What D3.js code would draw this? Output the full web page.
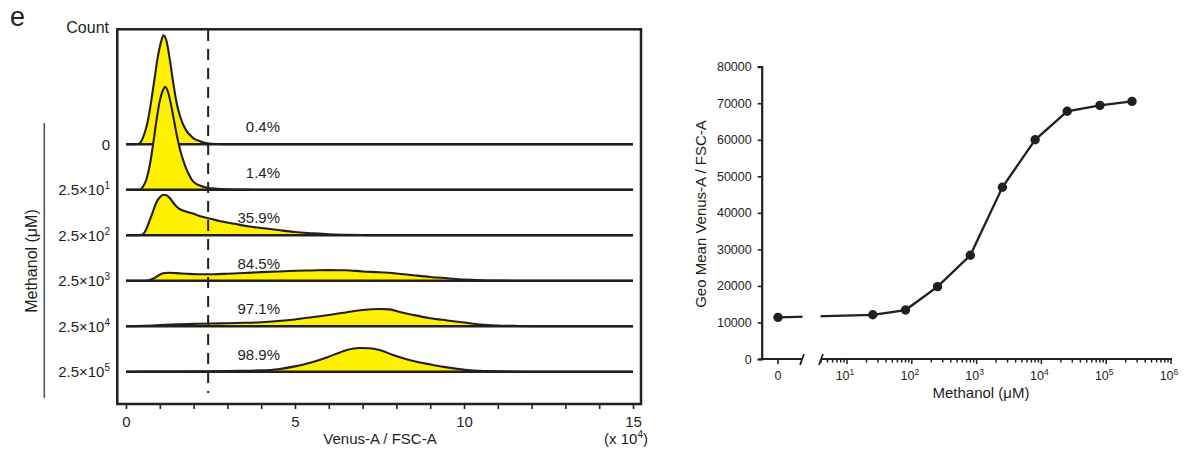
<!DOCTYPE html>
<html>
<head>
<meta charset="utf-8">
<script src="https://cdn.jsdelivr.net/npm/d3@7"></script>
<style>
  body { margin: 0; background: #fff; }
  text { font-family: "Liberation Sans", Arial, sans-serif; fill: #231f20; }
</style>
</head>
<body>
<svg id="chart" width="1189" height="455"></svg>
<script>
// ---- data: left panel, histograms (x in units of 10^4, count in arbitrary units)
const rowExponents = [null, 1, 2, 3, 4, 5];
const rowPercents = ["0.4%", "1.4%", "35.9%", "84.5%", "97.1%", "98.9%"];
const gateValue = 2.43;

const hist0 = [[0,0],[0.3,0],[0.4,1],[0.45,3],[0.55,11],[0.65,24],[0.75,44],[0.85,67],[0.95,89],[1.05,104],[1.11,109],
  [1.2,103],[1.3,84],[1.4,61],[1.5,41],[1.6,28],[1.7,19],[1.8,13],[1.9,9],[2.0,6],[2.2,3],[2.4,1],[2.7,0.3],[3.2,0],[15,0]];
const hist1 = [[0,0],[0.4,0],[0.5,3],[0.6,10],[0.7,24],[0.8,45],[0.9,69],[1.0,89],[1.1,100],[1.16,103],[1.25,97],
  [1.35,82],[1.45,64],[1.55,47],[1.65,34],[1.75,24],[1.85,16],[1.95,10],[2.05,6.5],[2.2,4],[2.4,2],[2.7,1],[3.0,0.5],[3.5,0.2],[4.0,0],[15,0]];
const hist2 = [[0,0],[0.4,0],[0.5,1],[0.6,6],[0.7,15],[0.8,24],[0.9,33],[1.0,38],[1.1,40.5],[1.2,40],[1.3,37],[1.4,32.5],
  [1.5,28.5],[1.6,26],[1.8,23.5],[2.0,21.5],[2.2,19],[2.5,16.5],[2.8,14],[3.2,11.5],[3.6,9],[4.0,7.3],[4.5,5.2],[5.0,3.2],
  [5.5,2],[6.0,1],[6.5,0.5],[7.0,0.2],[7.5,0],[15,0]];
const hist3 = [[0,0],[0.5,0],[0.65,0.3],[0.8,2],[0.95,5],[1.1,7.5],[1.25,8],[1.5,7.6],[1.8,7],[2.2,6.5],[2.6,6.5],[3.0,7],
  [3.5,7.8],[4.0,8.6],[4.5,9.3],[5.0,10],[5.5,10.3],[6.0,10.6],[6.5,10.5],[7.0,9.3],[7.5,8.5],[8.0,7.3],[8.5,5.5],[9.0,3.8],
  [9.5,2.5],[10.0,1.2],[10.5,0.5],[11.0,0.2],[11.5,0],[15,0]];
const hist4 = [[0,0],[0.5,0.3],[1.0,1.2],[1.5,1.8],[2.0,2.3],[2.5,2.7],[3.0,3.0],[3.5,3.4],[4.0,4.0],[4.5,5.2],[5.0,6.8],
  [5.5,9.0],[6.0,11.3],[6.5,13.8],[7.0,16.3],[7.5,17.2],[7.8,16.8],[8.1,14.3],[8.5,11.3],[9.0,8.0],[9.5,5.8],[10.0,3.7],
  [10.5,1.6],[11.0,0.7],[11.5,0.3],[12.0,0.1],[13.0,0],[15,0]];
const hist5 = [[0,0],[1.0,0.1],[2.0,0.3],[3.0,0.6],[3.5,0.9],[4.0,1.3],[4.5,2.5],[5.0,5.3],[5.5,9.5],[6.0,15],[6.5,21.3],
  [6.9,23.7],[7.2,23.5],[7.5,21.7],[7.9,16.7],[8.3,12.5],[8.6,10],[9.0,7.3],[9.4,4.8],[9.8,2.8],[10.2,1.3],[10.7,0.6],
  [11.4,0.1],[12,0],[15,0]];
const histograms = [hist0, hist1, hist2, hist3, hist4, hist5];
const xTicksLeft = d3.range(0, 16, 1);
const xLabelsLeft = [0, 5, 10, 15];

// ---- data: right panel
const concentrations = [0, 25, 80, 250, 800, 2500, 8000, 25000, 80000, 250000];
const geoMean = [11400, 12100, 13400, 19800, 28400, 47000, 60000, 67800, 69400, 70500];
const yTicksRight = d3.range(0, 80001, 10000);
const decades = [1, 2, 3, 4, 5, 6];

const ink = "#231f20";
const yellow = "#fff000";
const svg = d3.select("#chart");

// panel letter
svg.append("text").attr("x", 10).attr("y", 26).style("font-size", "27px").text("e");

// ================= left panel =================
const xH = d3.scaleLinear().domain([0, 15]).range([126, 633]);
const rowY = d3.scalePoint().domain(d3.range(6)).range([144.3, 371.7]);
const hScale = d3.scaleLinear().domain([0, 100]).range([0, 100]);

const left = svg.append("g");

// frame
left.append("rect")
  .attr("x", 117.3).attr("y", 29.3)
  .attr("width", 641 - 117.3).attr("height", 404 - 29.3)
  .attr("fill", "none").attr("stroke", ink).attr("stroke-width", 2.5);

// x axis ticks (below frame)
const xAxisLeft = d3.axisBottom(xH).tickValues(xTicksLeft).tickSize(5)
  .tickFormat(d => xLabelsLeft.includes(d) ? d : "");
left.append("g")
  .attr("transform", "translate(0,404)")
  .call(xAxisLeft)
  .call(g => g.select(".domain").remove())
  .call(g => g.selectAll(".tick line").attr("stroke", ink).attr("stroke-width", 1.6))
  .call(g => g.selectAll(".tick text").attr("dy", 0).attr("y", 23).style("font-size", "15px")
    .style("font-family", "'Liberation Sans', Arial, sans-serif").attr("fill", ink));

left.append("text").attr("x", 380).attr("y", 443.5).attr("text-anchor", "middle")
  .style("font-size", "15px").text("Venus-A / FSC-A");
const xUnit = left.append("text").attr("x", 648).attr("y", 443.5).attr("text-anchor", "end")
  .style("font-size", "15px");
xUnit.append("tspan").text("(x 10");
xUnit.append("tspan").attr("dy", -6).style("font-size", "10px").text("4");
xUnit.append("tspan").attr("dy", 6).text(")");

left.append("text").attr("x", 109).attr("y", 32.5).attr("text-anchor", "end")
  .style("font-size", "16px").text("Count");

// histograms
const area = (base) => d3.area()
  .x(d => xH(d[0]))
  .y0(base)
  .y1(d => base - hScale(d[1]))
  .curve(d3.curveMonotoneX);
const topLine = (base) => d3.line()
  .x(d => xH(d[0]))
  .y(d => base - hScale(d[1]))
  .curve(d3.curveMonotoneX);

histograms.forEach((h, i) => {
  const base = rowY(i);
  const g = left.append("g");
  g.append("path").datum(h).attr("d", area(base)).attr("fill", yellow);
  g.append("line").attr("x1", xH(0)).attr("x2", xH(15)).attr("y1", base).attr("y2", base)
    .attr("stroke", ink).attr("stroke-width", 2.4);
  g.append("path").datum(h).attr("d", topLine(base)).attr("fill", "none")
    .attr("stroke", ink).attr("stroke-width", 2.1);
  g.append("text").attr("x", 280).attr("y", base - 12).attr("text-anchor", "end")
    .style("font-size", "15px").text(rowPercents[i]);

  const lab = left.append("text").attr("x", 110).attr("y", base + 5.5).attr("text-anchor", "end")
    .style("font-size", "15px");
  if (rowExponents[i] === null) {
    lab.text("0");
  } else {
    lab.append("tspan").text("2.5×10");
    lab.append("tspan").attr("dy", -6).style("font-size", "10px").text(rowExponents[i]);
  }
});

// gate
left.append("line")
  .attr("x1", xH(gateValue)).attr("x2", xH(gateValue))
  .attr("y1", 30).attr("y2", 393)
  .attr("stroke", ink).attr("stroke-width", 2).attr("stroke-dasharray", "11,8");

// methanol bracket
left.append("line").attr("x1", 44.3).attr("x2", 44.3).attr("y1", 123).attr("y2", 398)
  .attr("stroke", "#555").attr("stroke-width", 1.6);
left.append("text").attr("transform", "translate(36.5,261) rotate(-90)").attr("text-anchor", "middle")
  .style("font-size", "16px").text("Methanol (μM)");

// ================= right panel =================
const yG = d3.scaleLinear().domain([0, 80000]).range([359, 66.7]);
const xLog = d3.scaleLog().domain([10, 1e6]).range([847, 1171]);
const zeroX = 778;
const breakL = 802, breakR = 821;
const xPos = c => c === 0 ? zeroX : xLog(c);

const right = svg.append("g");

// y axis
right.append("g")
  .attr("transform", "translate(761.7,0)")
  .call(d3.axisLeft(yG).tickValues(yTicksRight).tickSize(4).tickPadding(6).tickFormat(d3.format("d")))
  .call(g => g.select(".domain").attr("stroke", ink).attr("stroke-width", 2.2))
  .call(g => g.selectAll(".tick line").attr("stroke", ink).attr("stroke-width", 1.6))
  .call(g => g.selectAll(".tick text").style("font-size", "12.5px")
    .style("font-family", "'Liberation Sans', Arial, sans-serif").attr("fill", ink));

right.append("text").attr("transform", "translate(706,214) rotate(-90)").attr("text-anchor", "middle")
  .style("font-size", "15px").text("Geo Mean Venus-A / FSC-A");

// x axis: zero segment
right.append("line").attr("x1", 760.6).attr("x2", breakL).attr("y1", 359).attr("y2", 359)
  .attr("stroke", ink).attr("stroke-width", 2.2);
right.append("line").attr("x1", zeroX).attr("x2", zeroX).attr("y1", 359).attr("y2", 364)
  .attr("stroke", ink).attr("stroke-width", 1.6);
right.append("text").attr("x", zeroX).attr("y", 380).attr("text-anchor", "middle")
  .style("font-size", "12.5px").text("0");

// x axis: log segment
const logStart = xLog.invert(breakR);
const logTicks = [];
[0].concat(decades).forEach(k => {
  for (let m = 1; m <= 9; m++) {
    const v = m * Math.pow(10, k);
    if (v >= logStart && v <= 1e6) logTicks.push(v);
  }
});
right.append("line").attr("x1", breakR).attr("x2", xLog(1e6) + 1).attr("y1", 359).attr("y2", 359)
  .attr("stroke", ink).attr("stroke-width", 2.2);
right.selectAll(".minor")
  .data(logTicks)
  .join("line")
  .attr("class", "minor")
  .attr("x1", d => xLog(d)).attr("x2", d => xLog(d))
  .attr("y1", 359)
  .attr("y2", d => Number.isInteger(Math.log10(d)) ? 364 : 362.5)
  .attr("stroke", ink).attr("stroke-width", 1.5);

decades.forEach(k => {
  const t = right.append("text").attr("x", xLog(Math.pow(10, k)) - 2).attr("y", 380)
    .attr("text-anchor", "middle").style("font-size", "12.5px");
  t.append("tspan").text("10");
  t.append("tspan").attr("dy", -5).style("font-size", "8.5px").text(k);
});

// break marks
[breakL, breakR].forEach(bx => {
  right.append("line").attr("x1", bx - 2).attr("x2", bx + 2).attr("y1", 365).attr("y2", 354)
    .attr("stroke", ink).attr("stroke-width", 1.8);
});

right.append("text").attr("x", 981).attr("y", 398).attr("text-anchor", "middle")
  .style("font-size", "15px").text("Methanol (μM)");

// data line
const pts = concentrations.map((c, i) => [c, geoMean[i]]);
right.append("path").datum(pts)
  .attr("d", d3.line().x(d => xPos(d[0])).y(d => yG(d[1])))
  .attr("fill", "none").attr("stroke", ink).attr("stroke-width", 2.3);
// gap in the line at the axis break
right.append("rect")
  .attr("x", breakL + 0.5).attr("width", breakR - breakL - 1)
  .attr("y", yG(d3.max(geoMean.slice(0, 2))) - 6).attr("height", 12)
  .attr("fill", "#fff");
right.selectAll("circle")
  .data(pts)
  .join("circle")
  .attr("cx", d => xPos(d[0]))
  .attr("cy", d => yG(d[1]))
  .attr("r", 4.7)
  .attr("fill", ink);
</script>
</body>
</html>
